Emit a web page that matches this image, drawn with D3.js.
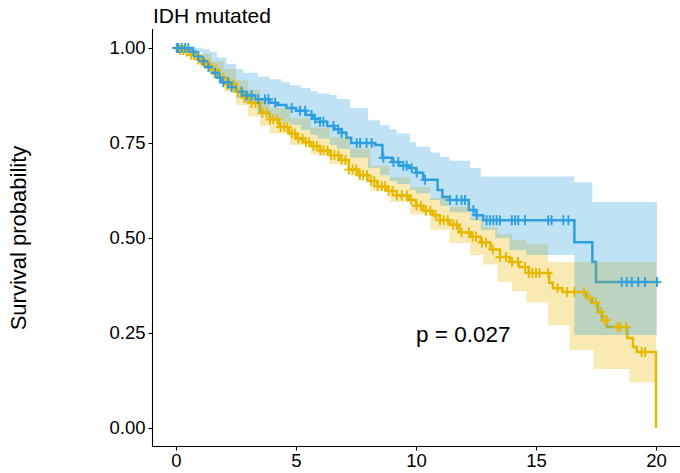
<!DOCTYPE html>
<html><head><meta charset="utf-8">
<script src="https://cdn.jsdelivr.net/npm/d3@7"></script>
<style>body{margin:0;background:#fff;} text{font-family:"Liberation Sans",Arial,Helvetica,sans-serif;}</style>
</head><body><svg id="c" width="680" height="473"></svg>
<script>
// ---- data ----
const title = "IDH mutated";
const yLabel = "Survival probability";
const pText = "p = 0.027";
const xTicks = [0, 5, 10, 15, 20];
const yTicks = [0, 0.25, 0.5, 0.75, 1];
const colors = ["#E7B800", "#2E9FDF"];

// yellow group: step curve (time, survival)
const yellowT = [0,0.1,0.4,0.6,0.9,1.15,1.45,1.8,2.1,2.5,2.8,3.1,3.5,3.9,4.3,4.7,5.0,5.3,5.6,6.0,6.4,6.8,7.2,7.6,8.0,8.4,8.8,9.2,9.7,10.0,10.3,10.7,11.0,11.4,11.8,12.3,12.7,13.1,13.5,13.9,14.3,14.7,15.55,15.7,16.1,17.1,17.33,17.58,17.75,17.96,18.8,19.04,19.2,20.0];
const yellowS = [1,0.995,0.99,0.982,0.97,0.958,0.942,0.922,0.905,0.885,0.87,0.855,0.83,0.812,0.792,0.775,0.762,0.752,0.742,0.73,0.718,0.705,0.68,0.665,0.65,0.636,0.624,0.612,0.6,0.585,0.572,0.56,0.547,0.535,0.515,0.503,0.488,0.47,0.45,0.437,0.424,0.408,0.382,0.368,0.358,0.342,0.329,0.305,0.284,0.266,0.237,0.213,0.2,0];
const yellowEnd = 20.0;
const yellowBandT = [0,0.3,0.6,1.0,1.5,2.0,2.5,3.0,3.5,3.9,4.75,5.6,6.4,7.25,8.1,8.9,9.75,10.6,11.4,12.25,12.8,13.4,14.0,14.6,15.5,16.4,17.4,18.9,20.0];
const yellowLo = [1,0.985,0.972,0.95,0.92,0.885,0.85,0.82,0.795,0.775,0.745,0.72,0.695,0.665,0.625,0.595,0.562,0.522,0.487,0.455,0.43,0.385,0.36,0.33,0.27,0.205,0.155,0.12,0.12];
const yellowHi = [1,1,0.992,0.985,0.965,0.945,0.915,0.89,0.862,0.842,0.815,0.79,0.765,0.735,0.69,0.66,0.634,0.605,0.582,0.553,0.529,0.51,0.495,0.485,0.437,0.437,0.437,0.437,0.437];
const yellowCensor = [0.05,0.17,0.3,0.44,0.62,0.75,0.93,1.05,1.22,1.36,1.52,1.66,1.83,1.97,2.12,2.24,2.41,2.57,2.7,2.86,3.02,3.14,3.31,3.46,3.6,3.77,3.92,4.05,4.22,4.36,4.51,4.64,4.82,4.95,5.1,5.27,5.41,5.55,5.72,5.86,6.02,6.15,6.31,6.46,6.6,6.77,6.9,7.06,7.2,7.36,7.51,7.66,7.8,7.96,8.12,8.26,8.4,8.57,8.71,8.86,9.02,9.2,9.41,9.62,9.8,10.02,10.2,10.41,10.6,10.82,11.0,11.15,11.32,11.55,11.7,11.9,12.2,12.36,12.5,12.75,12.92,13.2,13.5,13.75,14.0,14.25,14.55,14.7,14.85,15.0,15.15,15.5,15.9,16.3,16.6,17.0,17.25,17.5,17.7,17.85,17.95,18.4,18.5,18.75,19.4,19.55];

// blue group
const blueT = [0,0.6,0.8,1.0,1.3,1.5,1.7,1.9,2.2,2.5,2.8,3.3,3.9,4.2,4.6,5.0,5.4,5.7,6.0,6.3,6.6,6.9,7.1,7.3,8.3,8.6,9.0,9.3,9.7,10.0,10.3,10.9,11.1,11.4,12.2,12.5,12.8,16.6,17.35,17.5];
const blueS = [1,0.99,0.978,0.965,0.95,0.935,0.922,0.91,0.897,0.885,0.875,0.865,0.856,0.85,0.842,0.835,0.824,0.814,0.806,0.795,0.786,0.777,0.764,0.75,0.745,0.711,0.70,0.69,0.684,0.672,0.653,0.626,0.608,0.6,0.574,0.56,0.547,0.489,0.437,0.384];
const blueEnd = 20.04;
const blueBandT = [0,0.5,1.1,1.4,1.7,2.1,2.5,2.8,3.4,3.9,4.4,4.75,5.2,5.6,5.9,6.4,6.7,7.25,8.0,8.5,8.9,9.2,9.75,10.0,10.6,11.0,11.4,12.25,12.7,13.3,13.9,14.6,16.6,17.35,20.04];
const blueLo = [1,0.99,0.965,0.942,0.92,0.889,0.868,0.855,0.825,0.816,0.806,0.798,0.784,0.772,0.762,0.745,0.735,0.712,0.685,0.665,0.65,0.642,0.626,0.618,0.6,0.585,0.568,0.547,0.521,0.5,0.468,0.455,0.245,0.245,0.245];
const blueHi = [1,1,0.997,0.99,0.975,0.958,0.945,0.935,0.925,0.918,0.91,0.902,0.895,0.886,0.88,0.876,0.866,0.842,0.81,0.797,0.786,0.775,0.752,0.74,0.725,0.713,0.703,0.684,0.662,0.662,0.662,0.662,0.647,0.595,0.595];
const blueCensor = [0.03,0.1,0.24,0.38,0.51,0.72,0.93,1.14,1.35,1.63,1.83,1.97,2.18,2.32,2.74,2.95,3.15,3.43,3.71,3.85,4.13,4.82,5.17,5.38,5.65,5.79,6.0,6.14,6.56,6.76,6.9,7.53,7.67,7.94,8.15,8.64,9.06,9.26,9.47,9.61,9.82,10.03,10.38,11.42,11.69,11.9,12.04,12.39,12.53,12.94,13.08,13.22,13.36,13.5,13.99,14.13,14.26,14.54,15.51,15.65,16.14,16.35,18.57,18.78,18.99,19.26,19.54,20.04];

// ---- drawing ----
const svg = d3.select("#c");
const x = d3.scaleLinear().domain([-1, 21]).range([152, 680]);
const y = d3.scaleLinear().domain([-0.05, 1.05]).range([447, 29]);

const groups = [
  {T: yellowT, S: yellowS, end: yellowEnd, BT: yellowBandT, lo: yellowLo, hi: yellowHi, cens: yellowCensor, color: colors[0]},
  {T: blueT, S: blueS, end: blueEnd, BT: blueBandT, lo: blueLo, hi: blueHi, cens: blueCensor, color: colors[1]}
];

function stepPts(g) {
  const pts = g.T.map((t, i) => [t, g.S[i]]);
  if (pts[pts.length - 1][0] < g.end) pts.push([g.end, g.S[g.S.length - 1]]);
  return pts;
}
function lookup(g, t) {
  let s = 1;
  for (let i = 0; i < g.T.length; i++) { if (g.T[i] <= t) s = g.S[i]; else break; }
  return s;
}

const line = d3.line().x(d => x(d[0])).y(d => y(d[1])).curve(d3.curveStepAfter);
const area = d3.area().x(d => x(d.t)).y0(d => y(d.lo)).y1(d => y(d.hi)).curve(d3.curveStepAfter);

// lines
groups.forEach(g => {
  svg.append("path").attr("d", line(stepPts(g))).attr("fill", "none")
    .attr("stroke", g.color).attr("stroke-width", 2.5);
});
// confidence bands
groups.forEach(g => {
  const b = g.BT.map((t, i) => ({t: t, lo: g.lo[i], hi: g.hi[i]}));
  svg.append("path").attr("d", area(b)).attr("fill", g.color).attr("fill-opacity", 0.3);
});
// censor marks
groups.forEach(g => {
  const p = g.cens.map(t => [x(t), y(lookup(g, t))]);
  svg.append("g").selectAll("path").data(p).join("path")
    .attr("d", d => `M${d[0]-4.5},${d[1]}H${d[0]+4.5}M${d[0]},${d[1]-5}V${d[1]+5}`)
    .attr("stroke", g.color).attr("stroke-width", 1.9).attr("fill", "none");
});

// axes
const xAxis = svg.append("g").attr("transform", "translate(0,446.5)")
  .call(d3.axisBottom(x).tickValues(xTicks).tickSize(4).tickSizeOuter(0).tickFormat(d3.format("d")));
const yAxis = svg.append("g").attr("transform", "translate(152.5,0)")
  .call(d3.axisLeft(y).tickValues(yTicks).tickSize(4).tickSizeOuter(0).tickFormat(d3.format(".2f")));
[xAxis, yAxis].forEach(a => {
  a.select(".domain").attr("stroke", "#000").attr("stroke-width", 1.1);
  a.selectAll(".tick line").attr("stroke", "#000").attr("stroke-width", 1.1);
  a.selectAll(".tick text").attr("fill", "#000").style("font-size", "18.5px")
   .style("font-family", "'Liberation Sans', Arial, sans-serif");
});
xAxis.selectAll(".tick text").attr("dy", "0.75em").attr("y", 7);
yAxis.selectAll(".tick text").attr("x", -7);
xAxis.select(".domain").attr("d", "M152,0H680");
yAxis.select(".domain").attr("d", "M0,29V447");

svg.append("text").attr("x", 153).attr("y", 23).text(title)
  .style("font-size", "21px").attr("fill", "#000");
svg.append("text").attr("transform", "translate(26,238) rotate(-90)").attr("text-anchor", "middle")
  .text(yLabel).style("font-size", "22px").attr("fill", "#000");
svg.append("text").attr("x", x(10)).attr("y", 342).text(pText)
  .style("font-size", "22.5px").attr("fill", "#000");
</script></body></html>
